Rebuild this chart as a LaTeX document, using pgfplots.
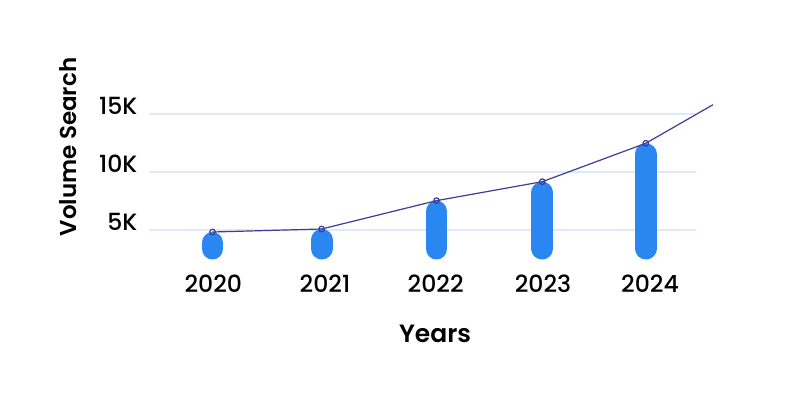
\documentclass[border=0pt]{standalone}
\usepackage{fontspec}
\setmainfont{Poppins}
\newfontfamily\poppinsmed{Poppins Medium}
\newfontfamily\poppinssemi{Poppins SemiBold}
\usepackage{pgfplots}
\pgfplotsset{compat=1.18}
\definecolor{barblue}{HTML}{2A86F0}
\definecolor{linecol}{HTML}{3C3C99}
\definecolor{gridcol}{HTML}{DEEAFC}
\begin{document}
\begin{tikzpicture}
\useasboundingbox (0,0) rectangle (400pt,200pt);
\begin{axis}[
  at={(74.5pt,56.05pt)}, anchor=south west,
  x=0.5pt, y=5.785pt,
  xmin=149, xmax=696, ymin=0, ymax=16,
  axis line style={draw=none},
  tick style={draw=none},
  major tick length=0pt,
  clip=false,
  ytick={5,10,15}, yticklabels={5K,10K,15K},
  ymajorgrids, grid style={gridcol, line width=1pt},
  xtick={213.3,325,435.7,543,650}, xticklabels={2020,2021,2022,2023,2024},
  ticklabel style={font=\poppinsmed\fontsize{11.8}{14}\selectfont},
  xticklabel style={anchor=base, yshift=-2.4pt},
  yticklabel style={anchor=base east, inner sep=0pt, xshift=-5.6pt, yshift=-0.3pt},
  xlabel={Years},
  xlabel style={at={(axis description cs:0.5229,-0.2975)}, anchor=base, font=\poppinssemi\fontsize{12.5}{15}\selectfont},
  ylabel={Volume Search},
  ylabel style={at={(axis description cs:-0.1322,0.761)}, anchor=base, font=\poppinssemi\fontsize{11.5}{14}\selectfont},
]
% rounded bars (pill shapes) from 2.45K to each value
\addplot[barblue, line width=10.85pt, line cap=round, unbounded coords=jump] coordinates {
  (212.5,3.39) (212.5,3.89) (212.5,nan)
  (321.7,3.39) (321.7,4.15) (321.7,nan)
  (436.5,3.39) (436.5,6.60) (436.5,nan)
  (542.3,3.39) (542.3,8.24) (542.3,nan)
  (645.8,3.39) (645.8,11.56)
};
\addplot[linecol, line width=0.6pt, mark=o, mark size=1.4pt, mark indices={1,2,3,4,5},
  mark options={line width=0.6pt, fill=barblue!40}] coordinates {
  (212.5,4.83) (321.7,5.09) (436.5,7.54) (542.3,9.18) (645.8,12.50) (713,15.83)
};
\end{axis}
\end{tikzpicture}
\end{document}
